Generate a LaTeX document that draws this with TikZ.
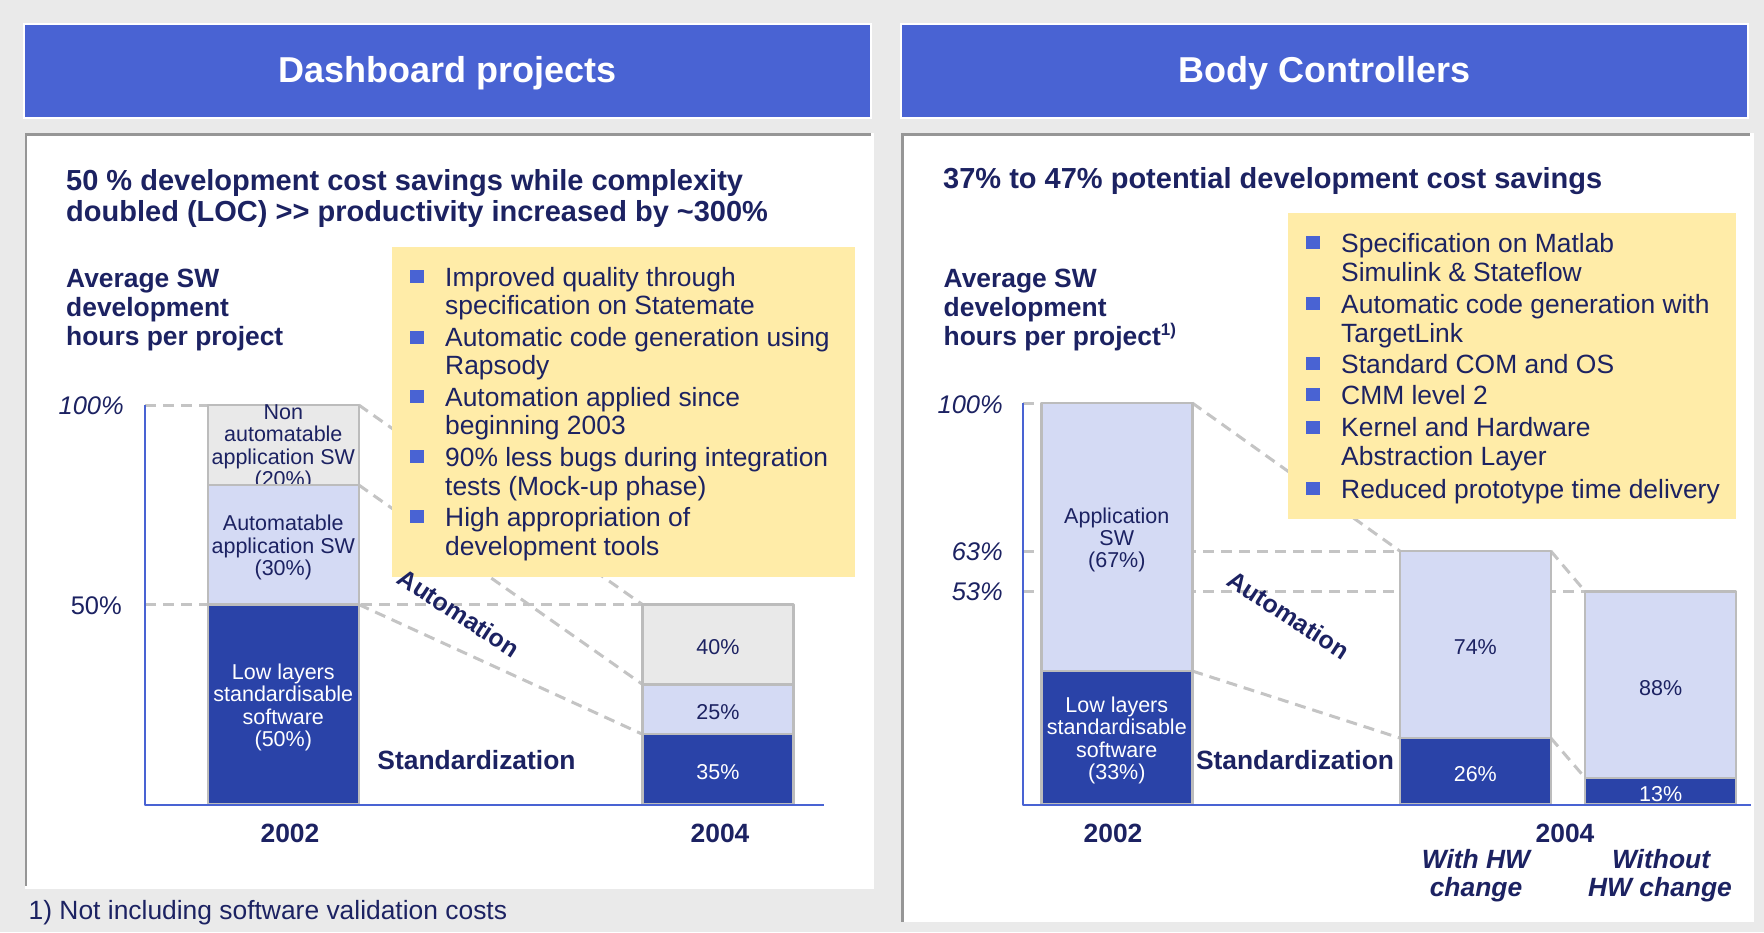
\documentclass[tikz,border=0pt]{standalone}
\usepackage{fontspec}
\setmainfont{Liberation Sans}
\pgfdeclarelayer{back}
\pgfdeclarelayer{bg}
\pgfsetlayers{back,bg,main}
\definecolor{hdrblue}{RGB}{73,99,211}
\definecolor{navy}{RGB}{28,34,98}
\definecolor{segdark}{RGB}{42,67,168}
\definecolor{seglight}{RGB}{212,218,244}
\definecolor{seggray}{RGB}{233,233,233}
\definecolor{segline}{RGB}{188,188,188}
\definecolor{guide}{RGB}{196,196,196}
\definecolor{notebg}{RGB}{255,236,168}
\definecolor{pagebg}{RGB}{234,234,234}
\definecolor{frame}{RGB}{150,150,150}
\newcommand{\setfs}[2]{\fontsize{#1}{#2}\selectfont}
\begin{document}
\begin{tikzpicture}[x=1pt,y=-1pt,line join=round,
  seg/.style={draw=segline,line width=2.5pt,inner sep=0pt,outer sep=0pt,minimum width=151pt},
  segtxt/.style={align=center,inner sep=0pt,yshift=-3pt,font=\setfs{21.5}{22.4}},
  guideline/.style={draw=guide,line width=3pt,dash pattern=on 11pt off 7pt},
  axisline/.style={draw=hdrblue,line width=2.5pt},
  hdr/.style={fill=hdrblue,draw=white,line width=2pt,minimum width=847pt,minimum height=94pt},
  hdrtxt/.style={inner sep=0pt,text=white,font=\setfs{36}{40}\bfseries},
  title/.style={anchor=base west,inner sep=0pt,text=navy,font=\setfs{29}{32}\bfseries},
  lbl/.style={inner sep=0pt,text=navy,font=\setfs{26.4}{29}\bfseries},
  noteline/.style={anchor=base west,inner sep=0pt,text=navy,font=\setfs{26.4}{29}},
  axlbl/.style={anchor=base east,inner sep=0pt,text=navy,font=\setfs{25.5}{28}},
  bul/.style={fill=hdrblue}]
\useasboundingbox (0,0) rectangle (1764,932);
% Hintergrund, Kopfzeilen, Felder
\begin{pgfonlayer}{back}
\fill[pagebg] (0,0) rectangle (1764,932);
\node[hdr] (lhdr) at (447.75,71) {};
\node[hdr] (rhdr) at (1324.5,71) {};
\node[hdrtxt] (lhdrt) at ([yshift=-2.5pt]lhdr.center) {Dashboard projects};
\node[hdrtxt] (rhdrt) at ([yshift=-2.5pt]rhdr.center) {Body Controllers};
\fill[white] (25,133) rectangle (874,889);
\fill[white] (901,133) rectangle (1754,922);
\draw[frame,line width=3pt] (25,134.5) -- (871,134.5);
\draw[frame,line width=1.5pt] (25.75,133) -- (25.75,886);
\draw[frame,line width=3pt] (901,134.5) -- (1750,134.5);
\draw[frame,line width=3pt] (902.5,133) -- (902.5,922);
\end{pgfonlayer}
\coordinate (lO) at (145,805); \coordinate (lX) at (824,805);
\coordinate (rO) at (1023,805); \coordinate (rX) at (1751,805);
% Balken
\foreach \n/\x/\ya/\yb/\fc/\tc/\txt in {
  la1/283.3/405/485/seggray/navy/{Non\\automatable\\application SW\\(20\%)},
  la2/283.3/485/604.5/seglight/navy/{Automatable\\application SW\\(30\%)},
  la3/283.3/604.5/804/segdark/white/{Low layers\\standardisable\\software\\(50\%)},
  lb1/717.9/604.5/684.3/seggray/navy/{40\%},
  lb2/717.9/684.3/734.2/seglight/navy/{25\%},
  lb3/717.9/734.2/804/segdark/white/{35\%},
  ra1/1116.8/403/671/seglight/navy/{Application\\SW\\(67\%)},
  ra2/1116.8/671/804/segdark/white/{Low layers\\standardisable\\software\\(33\%)},
  rb1/1475.3/551/738/seglight/navy/{74\%},
  rb2/1475.3/738/804/segdark/white/{26\%},
  rc1/1660.7/591.5/778/seglight/navy/{88\%},
  rc2/1660.7/778/804/segdark/white/{13\%}}{
  \pgfmathsetmacro\hh{\yb-\ya}
  \pgfmathsetmacro\ym{(\ya+\yb)/2}
  \node[seg,fill=\fc,minimum height=\hh] (\n) at (\x,\ym) {};
  \node[segtxt,text=\tc] (t\n) at (\n.center) {\txt};
}
% Hilfslinien
\begin{pgfonlayer}{bg}
\draw[guideline] (lO |- la1.north) -- (la1.north west);
\draw[guideline] (lO |- lb1.north) -- (lb1.north west);
\draw[guideline] (la1.north east) -- (lb1.north west);
\draw[guideline] (la2.north east) -- (lb2.north west);
\draw[guideline] (la3.north east) -- (lb3.north west);
\draw[guideline] (rO |- ra1.north) -- (ra1.north west);
\draw[guideline] (rO |- rb1.north) -- (rb1.north west);
\draw[guideline] (rO |- rc1.north) -- (rc1.north west);
\draw[guideline] (ra1.north east) -- (rb1.north west);
\draw[guideline] (ra2.north east) -- (rb2.north west);
\draw[guideline] (rb1.north east) -- (rc1.north west);
\draw[guideline] (rb2.north east) -- (rc2.north west);
\end{pgfonlayer}
\draw[axisline] (lO |- la1.north) -- (lO) -- (lX);
\draw[axisline] (rO |- ra1.north) -- (rO) -- (rX);
% Notizen
\fill[notebg] (392,247) rectangle (855,576.5);
\fill[notebg] (1288,213) rectangle (1736,518.5);
\foreach \y/\b/\txt [count=\i] in {286/1/Improved quality through,314/0/specification on Statemate,
  346.5/1/Automatic code generation using,374/0/Rapsody,406/1/Automation applied since,434.5/0/beginning 2003,
  466/1/90\% less bugs during integration,495/0/tests (Mock-up phase),526/1/High appropriation of,555/0/development tools}{
  \node[noteline] (ln\i) at (445,\y) {\txt};
  \ifnum\b=1 \fill[bul] (410,\y-16) rectangle (424,\y-3);\fi
}
\foreach \y/\b/\txt [count=\i] in {252/1/Specification on Matlab,281.5/0/Simulink \& Stateflow,
  313/1/Automatic code generation with,342/0/TargetLink,373/1/Standard COM and OS,404/1/CMM level 2,
  436.5/1/Kernel and Hardware,465/0/Abstraction Layer,498/1/Reduced prototype time delivery}{
  \node[noteline] (rn\i) at (1341,\y) {\txt};
  \ifnum\b=1 \fill[bul] (1306,\y-16) rectangle (1320,\y-3);\fi
}
% Texte
\node[title] (lt1) at (66,190) {50 \% development cost savings while complexity};
\node[title] (lt2) at (66,221.5) {doubled (LOC) >\kern0pt> productivity increased by \textasciitilde300\%};
\node[title] (rt1) at (943,188) {37\% to 47\% potential development cost savings};
\node[lbl,anchor=base west] (lav1) at (66,287) {Average SW};
\node[lbl,anchor=base west] (lav2) at (66,316) {development};
\node[lbl,anchor=base west] (lav3) at (66,345) {hours per project};
\node[lbl,anchor=base west] (rav1) at (943.5,287) {Average SW};
\node[lbl,anchor=base west] (rav2) at (943.5,316) {development};
\node[lbl,anchor=base west] (rav3) at (943.5,345) {hours per project\raisebox{10pt}{\setfs{17}{17}1)}};
\node[axlbl] (l100) at (124,414) {\itshape 100\%};
\node[axlbl] (l50) at (122,614) {50\%};
\node[axlbl] (r100) at (1003,413) {\itshape 100\%};
\node[axlbl] (r63) at (1003,560) {\itshape 63\%};
\node[axlbl] (r53) at (1003,600) {\itshape 53\%};
\node[lbl,font=\setfs{25}{28}\bfseries,rotate=-33] (lauto) at (459,613) {Automation};
\node[lbl,font=\setfs{25}{28}\bfseries,rotate=-33] (rauto) at (1288.5,615) {Automation};
\node[lbl,anchor=base] (lstd) at (476.5,769) {Standardization};
\node[lbl,anchor=base] (rstd) at (1295,769) {Standardization};
\node[lbl,anchor=base] (l2002) at (290,842) {2002};
\node[lbl,anchor=base] (l2004) at (720,842) {2004};
\node[lbl,anchor=base] (r2002) at (1113,842) {2002};
\node[lbl,anchor=base] (r2004) at (1565,842) {2004};
\node[lbl,anchor=base,font=\setfs{26.4}{29}\bfseries\itshape] (rw1) at (1476,868) {With HW};
\node[lbl,anchor=base,font=\setfs{26.4}{29}\bfseries\itshape] (rw2) at (1476,896) {change};
\node[lbl,anchor=base,font=\setfs{26.4}{29}\bfseries\itshape] (rwo1) at (1661,868) {Without};
\node[lbl,anchor=base,font=\setfs{26.4}{29}\bfseries\itshape] (rwo2) at (1660,896) {HW change};
\node[noteline] (fn) at (28.5,919) {1) Not including software validation costs};
\end{tikzpicture}
\end{document}
